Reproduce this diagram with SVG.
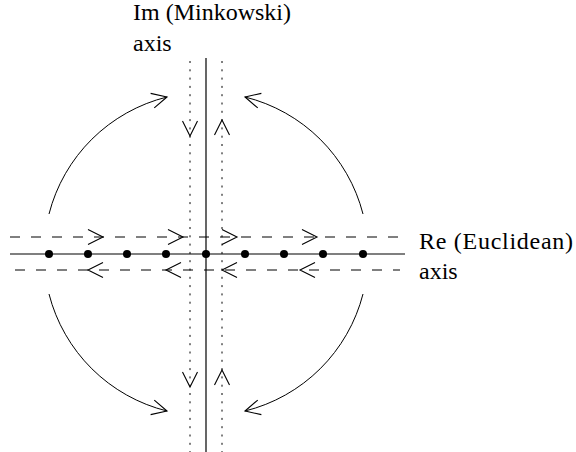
<svg xmlns="http://www.w3.org/2000/svg" width="576" height="452" viewBox="0 0 576 452">
<style>
.axis{stroke:#000;stroke-width:1.2;fill:none}
.dash{stroke:#000;stroke-width:1;fill:none;stroke-dasharray:10 11}
.dot{stroke:#000;stroke-width:1;fill:none;stroke-dasharray:2 6.3}
.arc{stroke:#000;stroke-width:1;fill:none}
text{font-family:'Liberation Serif','Times New Roman',Times,serif;font-size:24px;fill:#000}
</style>
<defs>
<path id="ah" d="M-15,-7.5 L0,0 L-15,7.5" fill="none" stroke="#000" stroke-width="1.1"/>
</defs>
<rect width="576" height="452" fill="#fff"/>
<g id="connectors">
<line class="axis" x1="10" y1="254" x2="405" y2="254"/>
<line class="axis" x1="206" y1="58" x2="206" y2="452"/>
<line class="dash" x1="10" y1="237" x2="400" y2="237"/>
<line class="dash" x1="15" y1="270" x2="400" y2="270"/>
<line class="dot" x1="190" y1="61" x2="190" y2="452"/>
<line class="dot" x1="222" y1="61" x2="222" y2="452"/>
<path class="arc" d="M49,214 A162,162 0 0 1 167,97"/>
<path class="arc" d="M363,214 A162,162 0 0 0 245,97"/>
<path class="arc" d="M49,294 A162,162 0 0 0 167,411"/>
<path class="arc" d="M363,294 A162,162 0 0 1 245,411"/>
<use href="#ah" transform="translate(167,97) rotate(-14)"/>
<use href="#ah" transform="translate(245,97) rotate(194)"/>
<use href="#ah" transform="translate(167,411) rotate(14)"/>
<use href="#ah" transform="translate(245,411) rotate(166)"/>
<use href="#ah" transform="translate(103,237)"/>
<use href="#ah" transform="translate(183,237)"/>
<use href="#ah" transform="translate(237,237)"/>
<use href="#ah" transform="translate(317,237)"/>
<use href="#ah" transform="translate(88,270) rotate(180)"/>
<use href="#ah" transform="translate(166,270) rotate(180)"/>
<use href="#ah" transform="translate(222,270) rotate(180)"/>
<use href="#ah" transform="translate(300,270) rotate(180)"/>
<use href="#ah" transform="translate(190,136) rotate(90)"/>
<use href="#ah" transform="translate(190,387) rotate(90)"/>
<use href="#ah" transform="translate(222,120) rotate(-90)"/>
<use href="#ah" transform="translate(222,370) rotate(-90)"/>
</g>
<g id="points" fill="#000">
<circle cx="49" cy="254" r="4"/>
<circle cx="88" cy="254" r="4"/>
<circle cx="127" cy="254" r="4"/>
<circle cx="166" cy="254" r="4"/>
<circle cx="206" cy="254" r="4"/>
<circle cx="245" cy="254" r="4"/>
<circle cx="284" cy="254" r="4"/>
<circle cx="323" cy="254" r="4"/>
<circle cx="363" cy="254" r="4"/>
</g>
<g id="label-im">
<text x="133" y="20">Im (Minkowski)</text>
<text x="133" y="51">axis</text>
</g>
<g id="label-re">
<text x="419" y="249" textLength="154" lengthAdjust="spacing">Re (Euclidean)</text>
<text x="419" y="279">axis</text>
</g>
</svg>
